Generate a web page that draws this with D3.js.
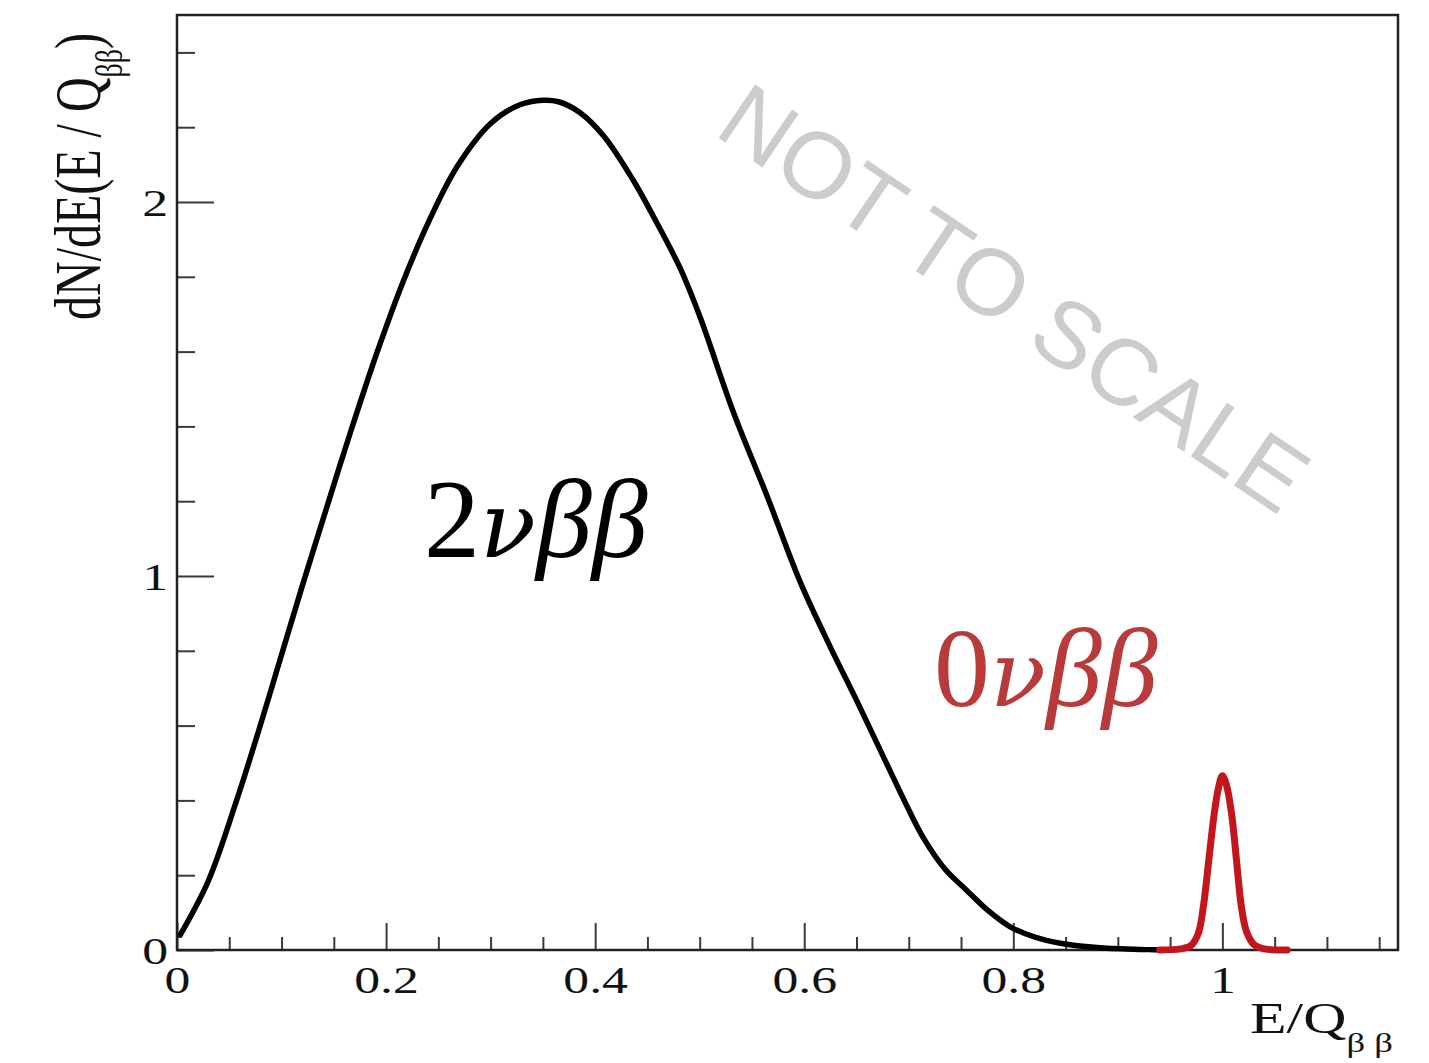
<!DOCTYPE html>
<html><head><meta charset="utf-8">
<script src="https://cdn.jsdelivr.net/npm/d3@7"></script>
<style>body{margin:0;background:#fff} svg{display:block}</style>
</head><body><svg id="c" width="1429" height="1063"></svg>
<script>
// 2νββ continuous spectrum
const twoNuX = [0.003, 0.030, 0.057, 0.078, 0.099, 0.120, 0.144, 0.166, 0.191, 0.216, 0.242, 0.268, 0.300, 0.328, 0.350, 0.365, 0.385, 0.408, 0.436, 0.456, 0.481, 0.500, 0.532, 0.565, 0.596, 0.625, 0.650, 0.676, 0.700, 0.714, 0.735, 0.756, 0.776, 0.797, 0.820, 0.845, 0.883, 0.930, 0.945];
const twoNuY = [0.040, 0.185, 0.400, 0.585, 0.780, 0.975, 1.190, 1.385, 1.595, 1.785, 1.955, 2.095, 2.210, 2.260, 2.272, 2.268, 2.240, 2.177, 2.060, 1.960, 1.825, 1.695, 1.440, 1.210, 0.985, 0.810, 0.668, 0.515, 0.375, 0.300, 0.215, 0.158, 0.105, 0.062, 0.035, 0.018, 0.006, 0.001, 0.000];
// 0νββ peak at Q
const zeroNuX = [0.940, 0.960, 0.970, 0.977, 0.982, 0.987, 0.992, 0.996, 1.000, 1.004, 1.009, 1.0135, 1.018, 1.023, 1.030, 1.040, 1.062];
const zeroNuY = [0.000, 0.003, 0.012, 0.045, 0.120, 0.240, 0.360, 0.430, 0.466, 0.440, 0.360, 0.240, 0.120, 0.050, 0.015, 0.003, 0.000];

const xMajorTicks = [0, 0.2, 0.4, 0.6, 0.8, 1];
const xTickLabels = ["0", "0.2", "0.4", "0.6", "0.8", "1"];
const xMinorTicks = [0.05, 0.1, 0.15, 0.25, 0.3, 0.35, 0.45, 0.5, 0.55, 0.65, 0.7, 0.75, 0.85, 0.9, 0.95, 1.05, 1.1, 1.15];
const yMajorTicks = [0, 1, 2];
const yTickLabels = ["0", "1", "2"];
const yMinorTicks = [0.2, 0.4, 0.6, 0.8, 1.2, 1.4, 1.6, 1.8, 2.2, 2.4];

const svg = d3.select("#c");
const x = d3.scaleLinear().domain([0, 1.168]).range([177, 1398]);
const y = d3.scaleLinear().domain([0, 2.5]).range([950, 15]);
const SERIF = "'Liberation Serif','Times New Roman',serif";
const STRETCH = 1.36;

svg.append("rect").attr("width", 1429).attr("height", 1063).attr("fill", "#fff");

// watermark
svg.append("text")
  .attr("transform", "translate(1015,297) rotate(34)")
  .attr("text-anchor", "middle").attr("dy", "0.36em")
  .attr("font-family", "'Liberation Sans',Arial,sans-serif")
  .attr("font-size", 94).attr("fill", "#cccccc")
  .text("NOT TO SCALE");

// axes ticks
function styleAxis(g) {
  g.select(".domain").remove();
  g.selectAll(".tick line").attr("stroke", "#3a3a3a").attr("stroke-width", 2);
}
const xMaj = svg.append("g").attr("transform", "translate(0,950)")
  .call(d3.axisBottom(x).tickValues(xMajorTicks).tickSize(-27).tickFormat((d, i) => xTickLabels[i]));
styleAxis(xMaj);
xMaj.selectAll(".tick text").attr("y", 43).attr("dy", null)
  .attr("transform", `scale(${STRETCH},1)`)
  .attr("font-family", SERIF).attr("font-size", 38).attr("fill", "#111");
const xMin = svg.append("g").attr("transform", "translate(0,950)")
  .call(d3.axisBottom(x).tickValues(xMinorTicks).tickSize(-13).tickFormat(""));
styleAxis(xMin);

const yMaj = svg.append("g").attr("transform", "translate(177,0)")
  .call(d3.axisLeft(y).tickValues(yMajorTicks).tickSize(-37).tickPadding(6.5).tickFormat((d, i) => yTickLabels[i]));
styleAxis(yMaj);
yMaj.selectAll(".tick text").attr("dy", "0.36em")
  .attr("transform", `scale(${STRETCH},1)`)
  .attr("font-family", SERIF).attr("font-size", 38).attr("fill", "#111");
const yMin = svg.append("g").attr("transform", "translate(177,0)")
  .call(d3.axisLeft(y).tickValues(yMinorTicks).tickSize(-18).tickFormat(""));
styleAxis(yMin);

// frame
svg.append("rect").attr("x", x(0)).attr("y", y(2.5))
  .attr("width", x(1.168) - x(0)).attr("height", y(0) - y(2.5))
  .attr("fill", "none").attr("stroke", "#222").attr("stroke-width", 2.5);

// curves
const line = d3.line().x(d => x(d[0])).y(d => y(d[1])).curve(d3.curveCatmullRom.alpha(0.5));
svg.append("path").datum(twoNuX.map((v, i) => [v, twoNuY[i]]))
  .attr("d", line).attr("fill", "none").attr("stroke", "#000")
  .attr("stroke-width", 5.5).attr("stroke-linejoin", "round").attr("stroke-linecap", "round");
svg.append("path").datum(zeroNuX.map((v, i) => [v, zeroNuY[i]]))
  .attr("d", line).attr("fill", "none").attr("stroke", "#c3161c")
  .attr("stroke-width", 7).attr("stroke-linejoin", "round").attr("stroke-linecap", "round");

// labels
function procLabel(tx, ty, num, color) {
  const t = svg.append("text").attr("x", tx).attr("y", ty)
    .attr("font-family", SERIF).attr("font-size", 112).attr("fill", color);
  t.append("tspan").text(num);
  t.append("tspan").attr("font-style", "italic")
    .attr("font-family", "'DejaVu Serif',serif").attr("font-size", 92).text("ν");
  t.append("tspan").attr("font-style", "italic").text("ββ");
}
procLabel(424, 557, "2", "#000");
procLabel(934, 706, "0", "#b83a3b");

// x axis title
const xt = svg.append("g").attr("transform", `translate(1250,1033) scale(${STRETCH},1)`);
const xtt = xt.append("text").attr("font-family", SERIF).attr("font-size", 44).attr("fill", "#111");
xtt.append("tspan").text("E/Q");
xtt.append("tspan").attr("font-size", 27).attr("dy", 19).text("β β");

// y axis title
const yt = svg.append("g").attr("transform", `translate(100,320) scale(${STRETCH},1) rotate(-90)`);
const ytt = yt.append("text").attr("font-family", SERIF).attr("font-size", 48).attr("fill", "#111");
ytt.append("tspan").text("dN/dE(E / Q");
ytt.append("tspan").attr("font-size", 28).attr("dy", 16).text("ββ");
ytt.append("tspan").attr("dy", -16).text(")");
</script></body></html>
